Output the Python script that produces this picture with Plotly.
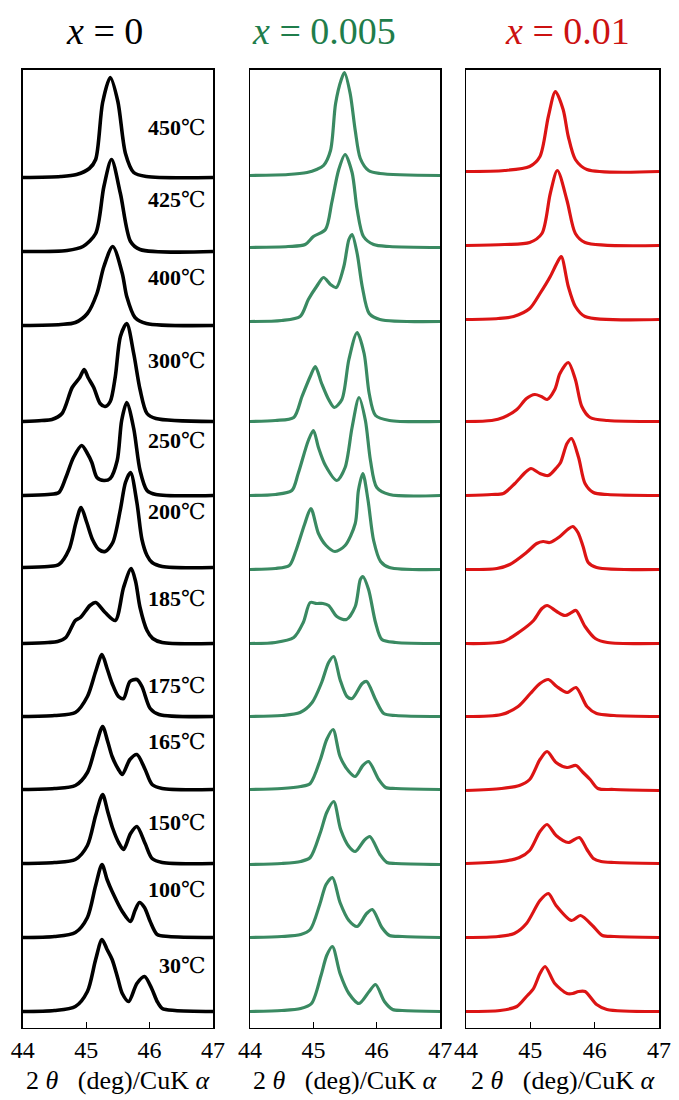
import plotly.graph_objects as go

# ---------------- data ----------------
TEMPS = ["450", "425", "400", "300", "250", "200", "185", "175", "165", "150", "100", "30"]
COMPOSITIONS = ["0", "0.005", "0.01"]
X_TICKS = [44, 45, 46, 47]

# vertical offset (baseline) of each pattern, top to bottom
OFFSETS_X0 = [850, 776, 702, 606, 532, 460, 384, 311, 238, 164, 90, 16]
OFFSETS_X005 = [852, 780, 706, 606, 532, 458, 384, 311, 238, 163, 90, 16]
OFFSETS_X01 = [856, 782, 708, 606, 532, 458, 384, 311, 237, 164, 90, 16]

# (2theta, intensity above baseline) points read along each profile, top to bottom
PROFILES_X0 = [
    [(44.0, 0), (44.6, 1), (44.85, 3), (45.05, 9), (45.15, 18), (45.26, 75), (45.38, 100), (45.5, 76), (45.62, 24), (45.75, 5), (45.95, 1), (47.0, 0)],
    [(44.0, 0), (44.7, 1), (44.95, 5), (45.15, 18), (45.28, 65), (45.40, 92), (45.54, 58), (45.7, 10), (45.85, 2), (47.0, 0)],
    [(44.0, 0), (44.6, 1), (44.83, 3), (45.02, 12), (45.17, 32), (45.28, 59), (45.42, 79), (45.57, 52), (45.64, 29), (45.77, 8), (45.95, 2), (47.0, 0)],
    [(44.0, 0), (44.3, 1), (44.46, 2), (44.62, 8), (44.78, 34), (44.9, 44), (44.97, 52), (45.03, 44), (45.12, 34), (45.22, 18), (45.30, 15), (45.38, 20), (45.46, 45), (45.54, 85), (45.64, 98), (45.75, 68), (45.85, 32), (45.96, 8), (46.1, 3), (47.0, 0)],
    [(44.0, 0), (44.4, 1), (44.57, 3), (44.68, 18), (44.8, 38), (44.93, 50), (45.02, 42), (45.09, 33), (45.17, 18), (45.28, 15), (45.38, 17), (45.49, 35), (45.56, 75), (45.64, 93), (45.75, 67), (45.85, 25), (45.96, 5), (46.1, 1), (47.0, 0)],
    [(44.0, 0), (44.4, 1), (44.57, 3), (44.73, 18), (44.84, 45), (44.92, 60), (45.01, 45), (45.1, 28), (45.2, 18), (45.30, 16), (45.42, 25), (45.54, 58), (45.62, 85), (45.70, 95), (45.8, 65), (45.88, 28), (45.96, 12), (46.04, 5), (46.2, 1), (47.0, 0)],
    [(44.0, 0), (44.4, 1), (44.55, 2), (44.68, 6), (44.83, 23), (44.91, 26), (45.06, 38), (45.15, 41), (45.30, 31), (45.46, 23), (45.59, 56), (45.71, 75), (45.78, 62), (45.85, 36), (45.96, 13), (46.05, 5), (46.2, 1), (47.0, 0)],
    [(44.0, 0), (44.5, 1), (44.83, 4), (45.02, 20), (45.15, 45), (45.25, 62), (45.33, 48), (45.41, 33), (45.51, 20), (45.59, 18), (45.69, 35), (45.80, 37), (45.88, 30), (46.01, 8), (46.15, 2), (47.0, 0)],
    [(44.0, 0), (44.5, 1), (44.83, 4), (45.02, 17), (45.15, 43), (45.26, 63), (45.34, 48), (45.41, 33), (45.51, 20), (45.57, 15), (45.69, 30), (45.80, 35), (45.93, 20), (46.04, 5), (46.2, 1), (47.0, 0)],
    [(44.0, 0), (44.5, 1), (44.83, 4), (45.02, 18), (45.15, 48), (45.26, 69), (45.34, 52), (45.42, 35), (45.52, 20), (45.59, 14), (45.70, 30), (45.80, 37), (45.93, 20), (46.04, 5), (46.2, 1), (47.0, 0)],
    [(44.0, 0), (44.5, 1), (44.83, 5), (45.02, 20), (45.15, 52), (45.25, 73), (45.33, 58), (45.41, 46), (45.57, 26), (45.70, 16), (45.77, 27), (45.84, 35), (45.92, 30), (46.01, 16), (46.12, 3), (46.3, 1), (47.0, 0)],
    [(44.0, 0), (44.5, 1), (44.83, 5), (45.02, 20), (45.15, 52), (45.25, 72), (45.33, 62), (45.41, 52), (45.50, 33), (45.57, 18), (45.67, 10), (45.80, 28), (45.92, 35), (46.04, 22), (46.12, 10), (46.2, 3), (46.4, 1), (47.0, 0)],
]

PROFILES_X005 = [
    [(44.0, 0), (44.6, 1), (44.9, 3), (45.05, 6), (45.16, 10), (45.27, 25), (45.35, 72), (45.44, 96), (45.49, 103), (45.58, 82), (45.66, 45), (45.74, 17), (45.87, 5), (46.05, 2), (47.0, 0)],
    [(44.0, 0), (44.6, 1), (44.87, 3), (45.0, 11), (45.19, 18), (45.29, 45), (45.40, 78), (45.50, 93), (45.61, 75), (45.69, 38), (45.79, 11), (45.95, 3), (46.2, 1), (47.0, 0)],
    [(44.0, 0), (44.5, 1), (44.79, 5), (44.92, 22), (45.05, 35), (45.16, 44), (45.27, 37), (45.36, 34), (45.48, 55), (45.56, 82), (45.61, 87), (45.69, 68), (45.77, 35), (45.88, 8), (46.05, 2), (47.0, 0)],
    [(44.0, 0), (44.4, 1), (44.69, 4), (44.82, 25), (44.95, 45), (45.03, 55), (45.13, 38), (45.24, 22), (45.33, 14), (45.45, 22), (45.56, 62), (45.69, 89), (45.80, 68), (45.88, 28), (45.98, 6), (46.2, 1), (47.0, 0)],
    [(44.0, 0), (44.4, 1), (44.66, 5), (44.76, 22), (44.92, 55), (45.00, 65), (45.08, 48), (45.19, 30), (45.37, 15), (45.50, 28), (45.61, 68), (45.72, 98), (45.82, 75), (45.90, 35), (46.00, 8), (46.2, 1), (47.0, 0)],
    [(44.0, 0), (44.4, 1), (44.62, 4), (44.72, 18), (44.86, 45), (44.96, 61), (45.08, 36), (45.2, 24), (45.34, 18), (45.5, 24), (45.66, 46), (45.71, 79), (45.78, 96), (45.86, 70), (45.95, 29), (46.06, 8), (46.2, 2), (47.0, 0)],
    [(44.0, 0), (44.4, 1), (44.69, 6), (44.84, 21), (44.95, 41), (45.05, 40), (45.15, 40), (45.24, 38), (45.37, 27), (45.52, 24), (45.66, 37), (45.74, 64), (45.78, 67), (45.87, 54), (45.98, 21), (46.08, 4), (46.3, 1), (47.0, 0)],
    [(44.0, 0), (44.5, 1), (44.79, 4), (44.98, 14), (45.13, 34), (45.24, 54), (45.32, 60), (45.42, 37), (45.53, 20), (45.61, 18), (45.77, 33), (45.84, 35), (45.98, 17), (46.11, 3), (46.3, 1), (47.0, 0)],
    [(44.0, 0), (44.5, 1), (44.8, 3), (44.95, 6), (45.11, 30), (45.21, 50), (45.31, 60), (45.42, 33), (45.56, 18), (45.66, 13), (45.78, 24), (45.87, 28), (46.03, 10), (46.14, 2), (46.3, 1), (47.0, 0)],
    [(44.0, 0), (44.5, 1), (44.8, 3), (44.95, 7), (45.11, 32), (45.21, 52), (45.32, 63), (45.43, 35), (45.56, 18), (45.66, 13), (45.80, 24), (45.89, 28), (46.05, 10), (46.16, 2), (46.3, 1), (47.0, 0)],
    [(44.0, 0), (44.5, 1), (44.8, 3), (44.95, 8), (45.1, 33), (45.2, 53), (45.30, 60), (45.42, 35), (45.56, 17), (45.69, 11), (45.84, 24), (45.93, 28), (46.08, 10), (46.2, 2), (46.4, 1), (47.0, 0)],
    [(44.0, 0), (44.5, 1), (44.8, 3), (44.97, 8), (45.12, 36), (45.21, 56), (45.30, 65), (45.42, 38), (45.56, 18), (45.72, 8), (45.88, 20), (45.98, 27), (46.12, 10), (46.25, 2), (46.4, 1), (47.0, 0)],
]

PROFILES_X01 = [
    [(44.0, 0), (44.6, 1), (44.99, 5), (45.15, 15), (45.28, 55), (45.39, 80), (45.51, 62), (45.59, 35), (45.70, 12), (45.88, 2), (47.0, 0)],
    [(44.0, 0), (44.6, 1), (44.99, 3), (45.18, 12), (45.31, 52), (45.42, 75), (45.57, 45), (45.70, 12), (45.85, 3), (47.0, 0)],
    [(44.0, 0), (44.5, 1), (44.74, 3), (44.99, 11), (45.15, 26), (45.31, 43), (45.41, 56), (45.48, 63), (45.59, 33), (45.70, 13), (45.85, 3), (47.0, 0)],
    [(44.0, 0), (44.4, 1), (44.58, 4), (44.79, 12), (44.94, 23), (45.07, 27), (45.17, 25), (45.26, 22), (45.38, 32), (45.46, 48), (45.59, 59), (45.70, 42), (45.80, 15), (45.93, 4), (46.2, 1), (47.0, 0)],
    [(44.0, 0), (44.4, 1), (44.58, 2), (44.76, 12), (44.92, 23), (45.01, 27), (45.15, 22), (45.28, 20), (45.41, 28), (45.47, 33), (45.57, 52), (45.64, 57), (45.75, 38), (45.85, 12), (45.98, 3), (46.2, 1), (47.0, 0)],
    [(44.0, 0), (44.48, 1), (44.68, 5), (44.94, 17), (45.10, 26), (45.20, 28), (45.30, 27), (45.46, 33), (45.58, 40), (45.66, 43), (45.74, 37), (45.82, 23), (45.90, 7), (46.03, 2), (47.0, 0)],
    [(44.0, 0), (44.58, 2), (44.84, 12), (45.05, 23), (45.18, 35), (45.26, 38), (45.41, 32), (45.54, 28), (45.64, 31), (45.71, 33), (45.85, 17), (46.01, 5), (46.2, 1), (47.0, 0)],
    [(44.0, 0), (44.55, 2), (44.81, 10), (45.0, 23), (45.15, 33), (45.28, 37), (45.41, 30), (45.57, 24), (45.71, 29), (45.88, 10), (46.03, 3), (46.3, 1), (47.0, 0)],
    [(44.0, 0), (44.55, 2), (44.83, 5), (44.99, 11), (45.15, 31), (45.26, 39), (45.40, 28), (45.57, 23), (45.71, 25), (45.82, 18), (45.93, 11), (46.05, 2), (46.3, 1), (47.0, 0)],
    [(44.0, 0), (44.55, 2), (44.83, 6), (44.99, 13), (45.15, 32), (45.26, 39), (45.40, 28), (45.59, 21), (45.76, 26), (45.88, 14), (45.98, 5), (46.1, 2), (46.3, 1), (47.0, 0)],
    [(44.0, 0), (44.5, 1), (44.75, 4), (44.94, 14), (45.15, 37), (45.28, 44), (45.40, 32), (45.64, 17), (45.78, 22), (45.98, 11), (46.12, 2), (46.3, 1), (47.0, 0)],
    [(44.0, 0), (44.53, 1), (44.79, 5), (44.94, 15), (45.05, 23), (45.15, 38), (45.23, 45), (45.38, 28), (45.57, 18), (45.66, 18), (45.75, 20), (45.85, 20), (46.03, 7), (46.19, 2), (47.0, 0)],
]

# ---------------- layout / style ----------------
W, H = 679, 1100
PLOT_TOP, PLOT_BOTTOM = 69.5, 1027.5          # pixel rows of panel frame
PANEL_X = [(22.7, 213.0), (250.0, 440.2), (466.0, 659.0)]
Y_RANGE = [0, PLOT_BOTTOM - PLOT_TOP]
LINE_COLORS = ["#000000", "#3a8a62", "#dc1414"]
LINE_WIDTHS = [3.6, 3.2, 3.2]
TITLE_COLORS = ["#000000", "#1f7d4b", "#cc1111"]
TITLE_X = [104, 324, 567]
TITLE_Y = 31
LABEL_Y_PIX = [127, 200, 278, 361, 440, 511, 598, 685, 741, 822, 889, 965]
SERIF = "'Liberation Serif', 'Times New Roman', 'DejaVu Serif', 'Noto Sans CJK SC', serif"

panels = [(OFFSETS_X0, PROFILES_X0), (OFFSETS_X005, PROFILES_X005), (OFFSETS_X01, PROFILES_X01)]

fig = go.Figure()
for p, (offsets, profiles) in enumerate(panels):
    suffix = "" if p == 0 else str(p + 1)
    for temp, off, prof in zip(TEMPS, offsets, profiles):
        xs = [pt[0] for pt in prof]
        ys = [off + pt[1] for pt in prof]
        fig.add_trace(go.Scatter(
            x=xs, y=ys, mode="lines", name=temp + "℃",
            line=dict(color=LINE_COLORS[p], width=LINE_WIDTHS[p], shape="spline", smoothing=0.8),
            xaxis="x" + suffix, yaxis="y" + suffix, showlegend=False, hoverinfo="skip",
        ))

y_dom = [(H - PLOT_BOTTOM) / H, (H - PLOT_TOP) / H]
layout = dict(
    template="none",
    width=W, height=H, margin=dict(l=0, r=0, t=0, b=0, pad=0, autoexpand=False),
    paper_bgcolor="white", plot_bgcolor="white", showlegend=False,
    font=dict(family=SERIF, color="black"),
)
annotations = []
for p in range(3):
    suffix = "" if p == 0 else str(p + 1)
    x0, x1 = PANEL_X[p]
    layout["xaxis" + suffix] = dict(
        domain=[x0 / W, x1 / W], range=[X_TICKS[0], X_TICKS[-1]], anchor="y" + suffix,
        tickvals=X_TICKS, ticktext=[str(t) for t in X_TICKS], automargin=False,
        ticks="inside", ticklen=6, tickwidth=1.2, tickcolor="black",
        showline=True, linecolor="black", linewidth=1.5, mirror=True,
        showgrid=False, zeroline=False, ticklabelstandoff=0,
        tickfont=dict(family=SERIF, size=24, color="black"),
    )
    layout["yaxis" + suffix] = dict(
        domain=y_dom, range=Y_RANGE, anchor="x" + suffix, automargin=False,
        showticklabels=False, ticks="", showline=True, linecolor="black",
        linewidth=1.5, mirror=True, showgrid=False, zeroline=False,
    )
    annotations.append(dict(
        xref="paper", yref="paper", x=TITLE_X[p] / W, y=(H - TITLE_Y) / H,
        xanchor="center", yanchor="middle", showarrow=False,
        text="<i>x</i> = " + COMPOSITIONS[p],
        font=dict(family=SERIF, size=38, color=TITLE_COLORS[p]),
    ))
    annotations.append(dict(
        xref="paper", yref="paper", x=(x0 + x1) / 2 / W, y=(H - 1080) / H,
        xanchor="center", yanchor="middle", showarrow=False,
        text="2\u00a0<i>θ</i>\u00a0\u00a0\u00a0(deg)/CuK\u00a0<i>α</i>",
        font=dict(family=SERIF, size=26, color="black"),
    ))

for temp, ly in zip(TEMPS, LABEL_Y_PIX):
    annotations.append(dict(
        xref="paper", yref="paper", x=208 / W, y=(H - ly) / H,
        xanchor="right", yanchor="middle", showarrow=False,
        text="<b>" + temp + "</b>℃",
        font=dict(family=SERIF, size=22, color="black"),
    ))

layout["annotations"] = annotations
fig.update_layout(**layout)
fig.write_html(
    "out.html",
    config={"displayModeBar": False, "staticPlot": True},
    post_script="document.body.style.margin='0';document.body.style.overflow='hidden';",
)
